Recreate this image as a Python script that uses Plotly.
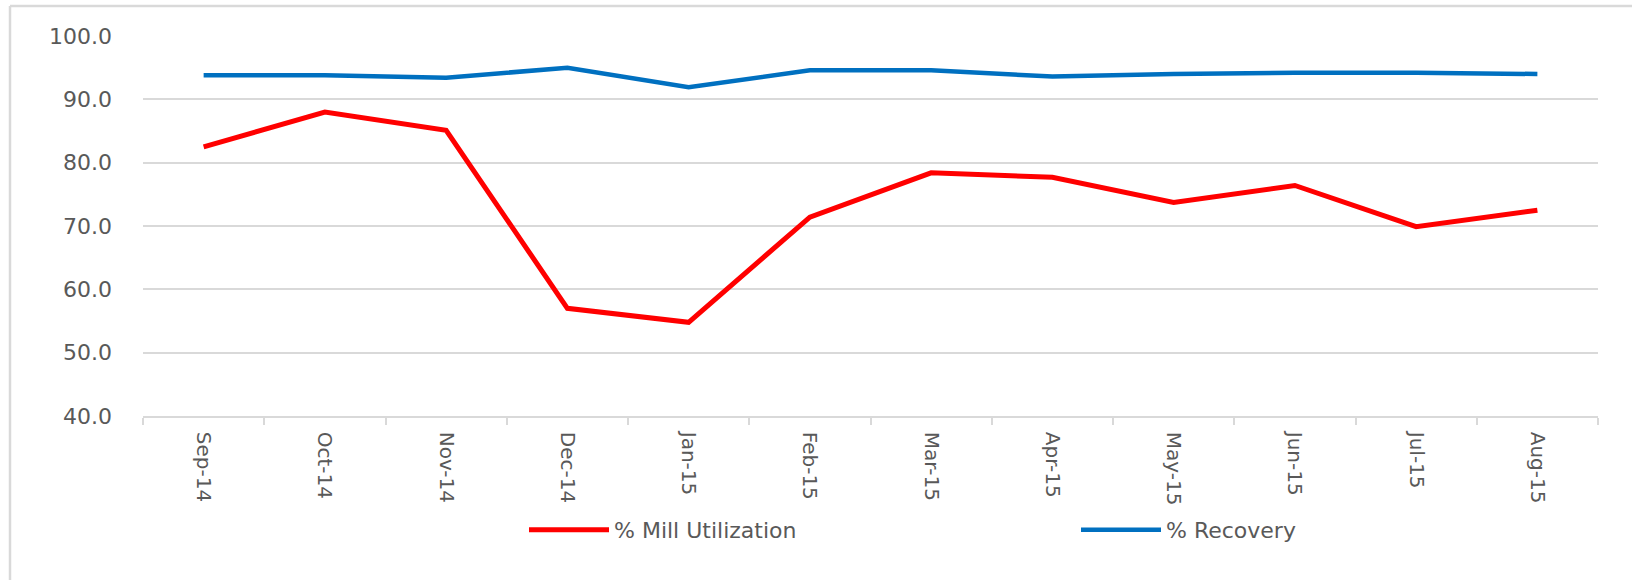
import plotly.graph_objects as go

months = ["Sep-14", "Oct-14", "Nov-14", "Dec-14", "Jan-15", "Feb-15",
          "Mar-15", "Apr-15", "May-15", "Jun-15", "Jul-15", "Aug-15"]
mill_utilization = [82.5, 88.0, 85.1, 57.0, 54.8, 71.4, 78.4, 77.7, 73.7, 76.4, 69.9, 72.5]
recovery = [93.8, 93.8, 93.4, 95.0, 91.9, 94.6, 94.6, 93.6, 94.0, 94.2, 94.2, 94.0]
y_ticks = [40, 50, 60, 70, 80, 90, 100]

W, H = 1632, 580
L, R, T, B = 143, 34, 36, 164
pw, ph = W - L - R, H - T - B

def px_x(x):
    return (x - L) / pw

def px_y(y):
    return (H - B - y) / ph

fig = go.Figure()
fig.add_trace(go.Scatter(x=months, y=mill_utilization, mode="lines",
                         name="% Mill Utilization",
                         line=dict(color="#FF0000", width=5)))
fig.add_trace(go.Scatter(x=months, y=recovery, mode="lines",
                         name="% Recovery",
                         line=dict(color="#0070C0", width=4.5)))

tick_font = dict(family="DejaVu Sans", size=20, color="#595959")

fig.update_layout(
    width=W, height=H,
    margin=dict(l=L, r=R, t=T, b=B, autoexpand=False),
    paper_bgcolor="white", plot_bgcolor="white",
    showlegend=True,
    legend=dict(orientation="h", x=px_x(1076), xanchor="center",
                y=px_y(530), yanchor="middle",
                font=dict(family="DejaVu Sans", size=22, color="#595959"),
                entrywidth=457, entrywidthmode="pixels",
                itemwidth=80, bgcolor="rgba(0,0,0,0)"),
    xaxis=dict(type="category", range=[-0.5, len(months) - 0.5],
               tickangle=90, tickfont=tick_font, automargin=False,
               showgrid=False, showline=True, linecolor="#D9D9D9", linewidth=1.5,
               ticks="outside", tickson="boundaries", ticklen=7,
               tickcolor="#D9D9D9", tickwidth=1.5, zeroline=False,
               ticklabelstandoff=10),
    yaxis=dict(range=[40, 100], tickvals=y_ticks, tickformat=".1f",
               tickfont=dict(family="DejaVu Sans", size=22, color="#595959"),
               automargin=False,
               showgrid=True, gridcolor="#D9D9D9",
               gridwidth=1.5, showline=False, zeroline=False, ticks="",
               ticklabelstandoff=30),
    shapes=[
        dict(type="line", xref="paper", yref="paper",
             x0=px_x(10), x1=px_x(W), y0=px_y(6), y1=px_y(6),
             line=dict(color="#D9D9D9", width=2.5)),
        dict(type="line", xref="paper", yref="paper",
             x0=px_x(10), x1=px_x(10), y0=px_y(6), y1=px_y(H),
             line=dict(color="#D9D9D9", width=2.5)),
    ],
)

fig.write_html("out.html",
               config={"displayModeBar": False},
               post_script="document.body.style.margin='0';"
                           "document.body.style.overflow='hidden';")
